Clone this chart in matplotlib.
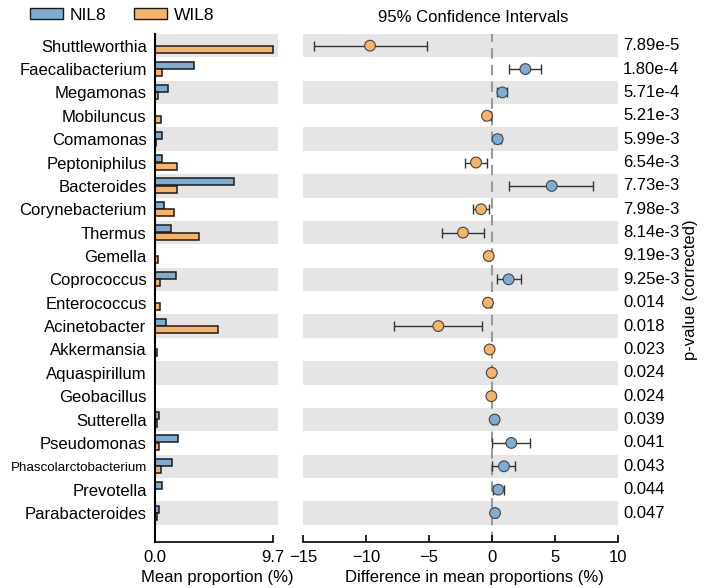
import numpy as np
import matplotlib
matplotlib.use("Agg")
import matplotlib.pyplot as plt
from matplotlib.patches import Patch

plt.rcParams['font.family'] = ['Liberation Sans', 'DejaVu Sans']

# data
taxa = ['Shuttleworthia', 'Faecalibacterium', 'Megamonas', 'Mobiluncus', 'Comamonas',
        'Peptoniphilus', 'Bacteroides', 'Corynebacterium', 'Thermus', 'Gemella',
        'Coprococcus', 'Enterococcus', 'Acinetobacter', 'Akkermansia', 'Aquaspirillum',
        'Geobacillus', 'Sutterella', 'Pseudomonas', 'Phascolarctobacterium',
        'Prevotella', 'Parabacteroides']
nil8 = [0.02, 3.18, 1.07, 0.02, 0.58, 0.58, 6.5, 0.72, 1.32, 0.02, 1.76, 0.03,
        0.9, 0.01, 0.03, 0.03, 0.36, 1.92, 1.43, 0.55, 0.36]
wil8 = [9.7, 0.58, 0.28, 0.47, 0.05, 1.78, 1.78, 1.54, 3.6, 0.25, 0.41, 0.39,
        5.18, 0.2, 0.03, 0.03, 0.17, 0.36, 0.52, 0.03, 0.17]
diff = [-9.68, 2.65, 0.82, -0.4, 0.45, -1.27, 4.74, -0.87, -2.3, -0.26, 1.32, -0.32,
        -4.26, -0.19, -0.02, -0.05, 0.21, 1.53, 0.95, 0.5, 0.24]
ci_low = [-14.15, 1.38, 0.42, -0.66, 0.19, -2.14, 1.32, -1.48, -3.94, -0.4, 0.37, -0.45,
          -7.78, -0.25, -0.08, -0.1, 0.05, 0.03, 0.03, 0.05, 0.12]
ci_high = [-5.18, 3.89, 1.21, -0.05, 0.74, -0.37, 8.04, -0.24, -0.63, -0.12, 2.3, -0.15,
           -0.79, -0.12, 0.04, 0.0, 0.38, 3.02, 1.85, 0.95, 0.36]
pvals = ['7.89e-5', '1.80e-4', '5.71e-4', '5.21e-3', '5.99e-3', '6.54e-3', '7.73e-3',
         '7.98e-3', '8.14e-3', '9.19e-3', '9.25e-3', '0.014', '0.018', '0.023', '0.024',
         '0.024', '0.039', '0.041', '0.043', '0.044', '0.047']

blue = '#7EADD3'
orange = '#F9B366'
shade = '#E5E5E5'
fs = 12

fig = plt.figure(figsize=(7.08, 5.88), dpi=100)
ax1 = fig.add_axes([155 / 708, 1 - 542 / 588, 123 / 708, 508 / 588])
ax2 = fig.add_axes([303 / 708, 1 - 542 / 588, 315 / 708, 508 / 588])

n = len(taxa)
y = np.arange(n)
ylim = (21.24, -0.5)

for ax in (ax1, ax2):
    for i in range(0, n, 2):
        ax.axhspan(i - 0.5, i + 0.5, color=shade, lw=0, zorder=0)
    ax.set_ylim(ylim)
    for s in ('top', 'right'):
        ax.spines[s].set_visible(False)
    ax.tick_params(axis='x', direction='in', length=5, width=1.2, labelsize=fs, pad=6)

# left: mean proportions
ax1.barh(y - 0.32, nil8, height=0.3, align='edge', color=blue, edgecolor='#1a1a1a', lw=1.1, zorder=2)
ax1.barh(y + 0.0, wil8, height=0.3, align='edge', color=orange, edgecolor='#1a1a1a', lw=1.1, zorder=2)
ax1.set_xlim(0, 10.1)
ax1.set_xticks([0, 9.7])
ax1.set_xticklabels(['0.0', '9.7'])
ax1.set_yticks(y)
ax1.set_yticklabels(taxa, fontsize=fs)
ax1.get_yticklabels()[taxa.index('Phascolarctobacterium')].set_fontsize(9.6)
ax1.tick_params(axis='y', length=0, pad=6)
ax1.spines['left'].set_linewidth(1.5)
ax1.spines['bottom'].set_linewidth(1.2)
ax1.spines['bottom'].set_bounds(0, 9.7)
ax1.set_xlabel('Mean proportion (%)', fontsize=fs, labelpad=0)
ax1.xaxis.set_label_coords(0.51, -0.055)

# right: difference with confidence intervals
ax2.axvline(0, color='#999999', ls=(0, (5, 3)), lw=1.5, zorder=1)
diff_a = np.array(diff)
err = np.vstack([diff_a - np.array(ci_low), np.array(ci_high) - diff_a])
ax2.errorbar(diff, y, xerr=err, fmt='none', ecolor='#333333', elinewidth=1,
             capsize=3.5, capthick=1, zorder=2)
cols = [blue if d > 0 else orange for d in diff]
ax2.scatter(diff, y, s=60, c=cols, edgecolors='#444444', linewidths=0.8, zorder=3)
ax2.set_xlim(-15, 10)
ax2.set_xticks([-15, -10, -5, 0, 5, 10])
ax2.set_xticklabels(['\u221215', '\u221210', '\u22125', '0', '5', '10'])
ax2.spines['left'].set_visible(False)
ax2.spines['bottom'].set_linewidth(1.2)
ax2.set_yticks(y)
ax2.set_yticklabels([])
ax2.tick_params(axis='y', length=0)
ax2.set_xlabel('Difference in mean proportions (%)', fontsize=fs, labelpad=0)
ax2.xaxis.set_label_coords(0.545, -0.055)
for yi, p in zip(y, pvals):
    ax2.text(1.016, yi, p, transform=ax2.get_yaxis_transform(), va='center', ha='left', fontsize=fs)

fig.text(473 / 708, 1 - 18 / 588, '95% Confidence Intervals', ha='center', va='center', fontsize=fs)
fig.text(691 / 708, 1 - 290 / 588, 'p-value (corrected)', ha='center', va='center',
         rotation=90, fontsize=fs)

handles = [Patch(facecolor=blue, edgecolor='#1a1a1a'), Patch(facecolor=orange, edgecolor='#1a1a1a')]
fig.legend(handles, ['NIL8', 'WIL8'], loc='center left', bbox_to_anchor=(30 / 708, 1 - 15 / 588),
           ncol=2, frameon=False, fontsize=12.5, handlelength=1.9, handleheight=0.6,
           columnspacing=1.6, handletextpad=0.4, borderaxespad=0, borderpad=0)

fig.savefig('out.png', dpi=100)
